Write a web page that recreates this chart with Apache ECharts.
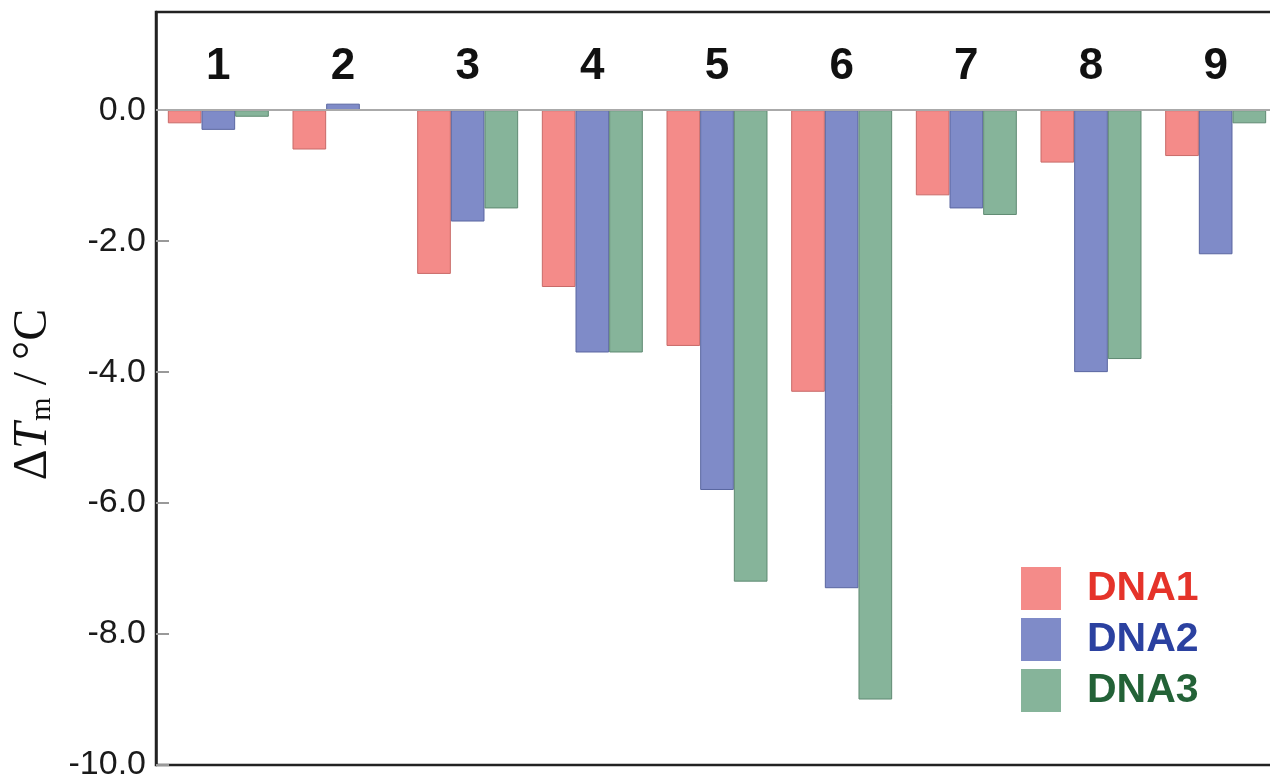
<!DOCTYPE html>
<html>
<head>
<meta charset="utf-8">
<script src="https://cdn.jsdelivr.net/npm/echarts@6/dist/echarts.min.js"></script>
<style>html,body{margin:0;padding:0;background:#fff;}#c{width:1270px;height:784px;}</style>
</head>
<body>
<div id="c"></div>
<script>
var categories = ['1','2','3','4','5','6','7','8','9'];
var seriesNames = ['DNA1','DNA2','DNA3'];
var dna1 = [-0.2, -0.6, -2.5, -2.7, -3.6, -4.3, -1.3, -0.8, -0.7];
var dna2 = [-0.3, 0.1, -1.7, -3.7, -5.8, -7.3, -1.5, -4.0, -2.2];
var dna3 = [-0.1, null, -1.5, -3.7, -7.2, -9.0, -1.6, -3.8, -0.2];
var yMin = -10, yMax = 1.5, yStep = 2;

var fills = ['#f48b89', '#7f8bc8', '#86b49a'];
var borders = ['#c86a68', '#5a66a0', '#5f8a72'];
var textColors = ['#e5332a', '#2b41a0', '#236237'];
var values = [dna1, dna2, dna3];

var chart = echarts.init(document.getElementById('c'));
var series = values.map(function (v, i) {
  var s = {
    name: seriesNames[i],
    type: 'bar',
    data: v,
    barGap: '0%',
    barCategoryGap: '19%',
    itemStyle: { color: fills[i], borderColor: borders[i], borderWidth: 1 }
  };
  if (i === 0) {
    s.markLine = {
      silent: true, symbol: 'none', label: { show: false },
      lineStyle: { color: '#aaaaaa', width: 2, type: 'solid' },
      data: [{ yAxis: 0 }]
    };
  }
  return s;
});

chart.setOption({
  animation: false,
  backgroundColor: '#fff',
  grid: { left: 156, top: 12, right: -8, bottom: 19, outerBoundsMode: 'none', containLabel: false,
          show: true, borderColor: '#222', borderWidth: 2.5, backgroundColor: 'transparent' },
  legend: {
    orient: 'vertical', left: 1016, top: 562,
    itemWidth: 40, itemHeight: 43, itemGap: 8, icon: 'rect',
    itemStyle: { borderWidth: 0 },
    textStyle: { fontFamily: 'Liberation Sans, Arial', fontWeight: 'bold', fontSize: 41, padding: [0, 0, 0, 21] },
    data: seriesNames.map(function (n, i) { return { name: n, textStyle: { color: textColors[i] } }; })
  },
  xAxis: {
    type: 'category', data: categories, position: 'top',
    axisLine: { show: false }, axisTick: { show: false },
    axisLabel: { inside: true, margin: 33, fontFamily: 'Liberation Sans, Arial', fontWeight: 'bold', fontSize: 44, color: '#111' }
  },
  yAxis: {
    type: 'value', min: yMin, max: yMax, interval: yStep,
    name: '{a|Δ}{i|T}{s|m}{a| / °C}',
    nameLocation: 'middle', nameGap: 91,
    nameTextStyle: {
      padding: [0, 12, 0, 0],
      rich: {
        a: { fontFamily: 'Liberation Serif, serif', fontSize: 48, color: '#111' },
        i: { fontFamily: 'Liberation Serif, serif', fontSize: 48, fontStyle: 'italic', color: '#111' },
        s: { fontFamily: 'Liberation Serif, serif', fontSize: 30, color: '#111', verticalAlign: 'bottom', padding: [18, 0, 0, 2] }
      }
    },
    splitLine: { show: false },
    axisLine: { show: true, lineStyle: { color: '#222', width: 2.5 } },
    axisTick: { show: true, inside: true, length: 13, lineStyle: { color: '#999', width: 2 } },
    axisLabel: {
      showMaxLabel: false, margin: 10,
      fontFamily: 'Liberation Sans, Arial', fontSize: 34, color: '#1a1a1a',
      formatter: function (v) { return v > 0 ? '' : v.toFixed(1); }
    }
  },
  series: series
});
</script>
</body>
</html>
